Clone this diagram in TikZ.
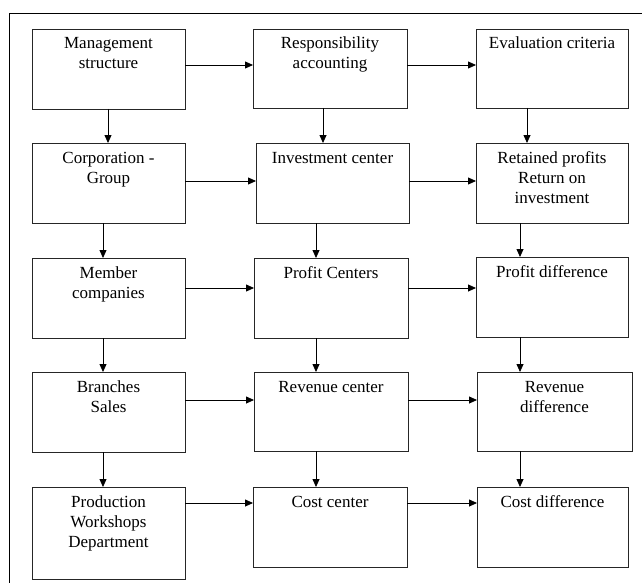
\documentclass[tikz,border=0pt]{standalone}
\usepackage{fontspec}
\setmainfont{Liberation Serif}
\usetikzlibrary{arrows.meta}
\newcommand\boxtext[3]{\parbox[c][#2][t]{#1}{\centering\fontsize{17}{20}\selectfont\rule{0pt}{20pt}#3}}
\tikzset{
  box/.style={draw=black!85, line width=0.9pt, inner sep=0pt, outer sep=0pt, anchor=north west},
  arr/.style={draw=black, line width=0.8pt, -{Triangle[length=8pt,width=7pt]}},
  frame/.style={draw=black, line width=1pt}
}
\begin{document}
\begin{tikzpicture}
\useasboundingbox (0,0) rectangle (642pt,-583pt);
\fill[white] (0,0) rectangle (642pt,-583pt);
% outer frame
\draw[frame] (9pt,-583pt) -- (9pt,-14pt) -- (642pt,-14pt);
% boxes
\node[box] (a1) at (32pt,-29pt)  {\boxtext{153pt}{80pt}{Management\\structure}};
\node[box] (b1) at (253pt,-29pt) {\boxtext{154pt}{79pt}{Responsibility\\accounting}};
\node[box] (c1) at (476pt,-29pt) {\boxtext{152pt}{79pt}{Evaluation criteria}};
\node[box] (a2) at (32pt,-143pt)  {\boxtext{153pt}{80pt}{Corporation -\\Group}};
\node[box] (b2) at (256pt,-143pt) {\boxtext{153pt}{80pt}{Investment center}};
\node[box] (c2) at (476pt,-143pt) {\boxtext{152pt}{80pt}{Retained profits\\Return on\\investment}};
\node[box] (a3) at (32pt,-258pt)  {\boxtext{153pt}{80pt}{Member\\companies}};
\node[box] (b3) at (254pt,-258pt) {\boxtext{154pt}{80pt}{Profit Centers}};
\node[box] (c3) at (476pt,-257pt) {\boxtext{152pt}{80pt}{Profit difference}};
\node[box] (a4) at (32pt,-372pt)  {\boxtext{153pt}{80pt}{Branches\\Sales}};
\node[box] (b4) at (254pt,-372pt) {\boxtext{154pt}{79pt}{Revenue center}};
\node[box] (c4) at (477pt,-372pt) {\boxtext{155pt}{79pt}{Revenue\\difference}};
\node[box] (a5) at (32pt,-487pt)  {\boxtext{153pt}{92pt}{Production\\Workshops\\Department}};
\node[box] (b5) at (253pt,-487pt) {\boxtext{154pt}{80pt}{Cost center}};
\node[box] (c5) at (477pt,-487pt) {\boxtext{151pt}{80pt}{Cost difference}};
% guide coordinates for arrow positions
\coordinate (va1) at (108pt,0);
\coordinate (va) at (103pt,0);
\coordinate (vb1) at (323pt,0);
\coordinate (vb) at (316pt,0);
\coordinate (vc1) at (527pt,0);
\coordinate (vc) at (520pt,0);
\coordinate (h1) at (0,-65pt);
\coordinate (h2) at (0,-181pt);
\coordinate (h3) at (0,-288pt);
\coordinate (h4) at (0,-400pt);
\coordinate (h5) at (0,-503pt);
% vertical arrows
\draw[arr] (a1.south -| va1) -- (a2.north -| va1);
\draw[arr] (a2.south -| va) -- (a3.north -| va);
\draw[arr] (a3.south -| va) -- (a4.north -| va);
\draw[arr] (a4.south -| va) -- (a5.north -| va);
\draw[arr] (b1.south -| vb1) -- (b2.north -| vb1);
\draw[arr] (b2.south -| vb) -- (b3.north -| vb);
\draw[arr] (b3.south -| vb) -- (b4.north -| vb);
\draw[arr] (b4.south -| vb) -- (b5.north -| vb);
\draw[arr] (c1.south -| vc1) -- (c2.north -| vc1);
\draw[arr] (c2.south -| vc) -- (c3.north -| vc);
\draw[arr] (c3.south -| vc) -- (c4.north -| vc);
\draw[arr] (c4.south -| vc) -- (c5.north -| vc);
% horizontal arrows
\draw[arr] (a1.east |- h1) -- (b1.west |- h1);
\draw[arr] (b1.east |- h1) -- (c1.west |- h1);
\draw[arr] (a2.east |- h2) -- (b2.west |- h2);
\draw[arr] (b2.east |- h2) -- (c2.west |- h2);
\draw[arr] (a3.east |- h3) -- (b3.west |- h3);
\draw[arr] (b3.east |- h3) -- (c3.west |- h3);
\draw[arr] (a4.east |- h4) -- (b4.west |- h4);
\draw[arr] (b4.east |- h4) -- (c4.west |- h4);
\draw[arr] (a5.east |- h5) -- (b5.west |- h5);
\draw[arr] (b5.east |- h5) -- (c5.west |- h5);
\end{tikzpicture}
\end{document}
